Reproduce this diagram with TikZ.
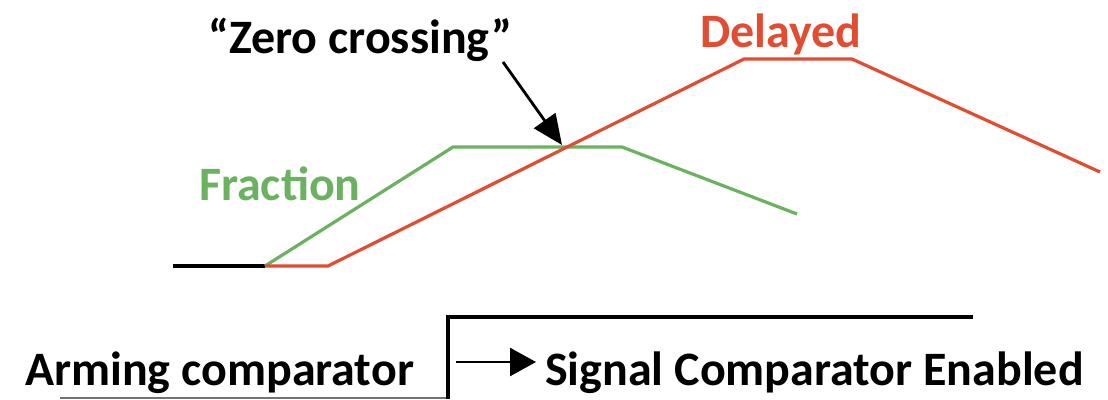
\documentclass[tikz,border=0pt]{standalone}
\usepackage{fontspec}
\setmainfont{Carlito}
\usetikzlibrary{arrows.meta}
\definecolor{gr}{RGB}{106,178,96}
\definecolor{rd}{RGB}{226,76,48}
\tikzset{
  lbl/.style={inner sep=0pt, anchor=base west, font=\fontsize{48}{58}\selectfont\bfseries},
  wave/.style={line width=3.2pt, line join=round},
}
\begin{document}
\begin{tikzpicture}[x=1pt,y=-1pt]
\useasboundingbox (0,0) rectangle (1108,399);
% baseline
\draw[line width=3.2pt] (173,266) -- (265,266);
% fraction
\draw[wave, gr] (265,266) -- (453,147) -- (622,147) -- (797,214);
% delayed
\draw[wave, rd] (265,266) -- (328,266) -- (744,59) -- (852,59) -- (1100,172);
% labels
\node[lbl] (zc) at (208,53) {“Zero crossing”};
\node[lbl, text=gr] (fr) at (199,200) {Fraction};
\node[lbl, text=rd] (dl) at (700,47) {Delayed};
\coordinate (zcA) at (503,62);
\coordinate (zcB) at (562,145);
\draw[line width=2.8pt, -{Triangle[length=30pt,width=26pt]}] (zcA) -- (zcB);
% comparator
\draw[line width=2pt, black!55] (60,398) -- (448,398);
\draw[line width=3.2pt] (448,399) -- (448,317) -- (973,317);
\node[lbl] (arm) at (25,385) {Arming comparator};
\node[lbl] (sig) at (545,385) {Signal Comparator Enabled};
\coordinate (arA) at (456,362);
\draw[line width=2.6pt, -{Triangle[length=26pt,width=28pt]}] (arA) -- ([xshift=-9pt]sig.west |- arA);
\end{tikzpicture}
\end{document}
